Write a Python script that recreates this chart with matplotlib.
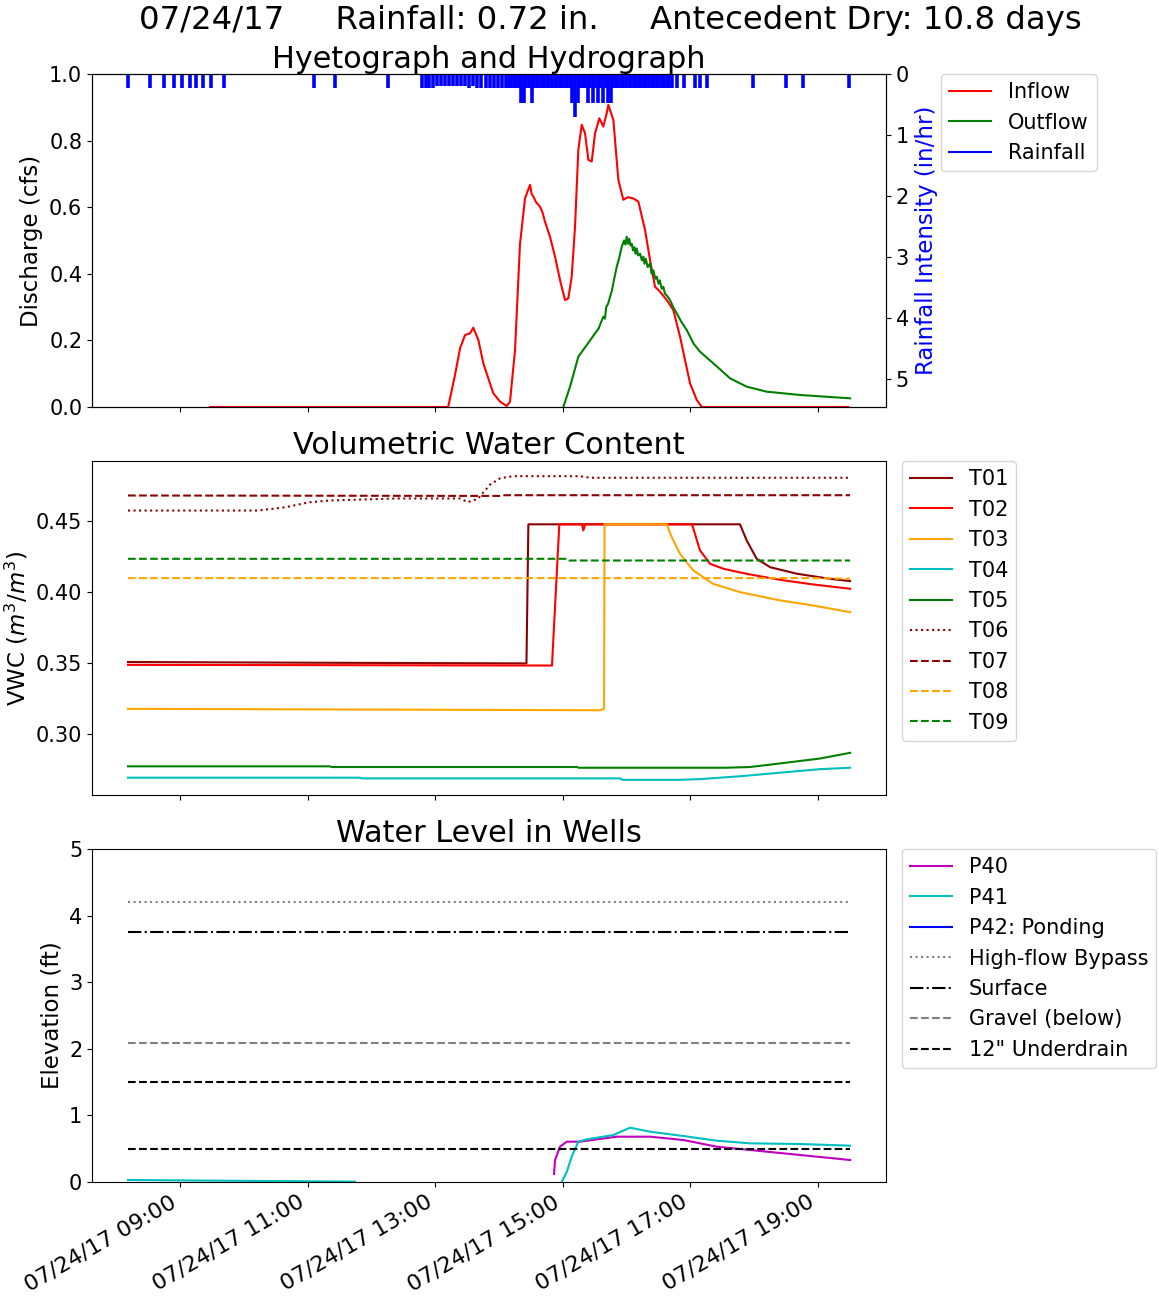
import numpy as np
import pandas as pd
import matplotlib
matplotlib.use("Agg")
import matplotlib.pyplot as plt
import matplotlib.dates as mdates

DAY = pd.Timestamp("2017-07-24")

# ---- hyetograph / hydrograph (times in decimal hours of the day) ----
inflow_t = [9.47, 13.18, 13.205, 13.31, 13.389, 13.467, 13.545, 13.597, 13.676,
            13.754, 13.832, 13.911, 14.016, 14.121, 14.172, 14.251, 14.329, 14.408,
            14.486, 14.51, 14.538, 14.58, 14.643, 14.68, 14.721, 14.799, 14.878,
            14.956, 15.034, 15.086, 15.139, 15.191, 15.243, 15.296, 15.348, 15.40,
            15.453, 15.505, 15.572, 15.635, 15.688, 15.713, 15.792, 15.87, 15.948,
            16.02, 16.105, 16.183, 16.288, 16.367, 16.445, 16.524, 16.629, 16.732,
            16.837, 16.915, 16.994, 17.099, 17.177, 19.475]
inflow_q = [0.0, 0.0, 0.002, 0.096, 0.176, 0.216, 0.221, 0.238, 0.201,
            0.131, 0.086, 0.041, 0.016, 0.003, 0.016, 0.171, 0.49, 0.627,
            0.667, 0.64, 0.632, 0.615, 0.601, 0.585, 0.556, 0.511, 0.451,
            0.381, 0.321, 0.326, 0.391, 0.541, 0.772, 0.847, 0.822, 0.742,
            0.737, 0.822, 0.867, 0.842, 0.882, 0.907, 0.862, 0.682, 0.622,
            0.63, 0.626, 0.617, 0.532, 0.441, 0.361, 0.346, 0.321, 0.291,
            0.211, 0.141, 0.071, 0.021, 0.0, 0.0]

outflow_t = [15.008, 15.113, 15.243, 15.375, 15.505, 15.56, 15.60, 15.635, 15.66,
             15.68, 15.71, 15.74, 15.77, 15.80, 15.845, 15.88, 15.923, 15.96, 15.98,
             16.002, 16.02, 16.04, 16.06, 16.08, 16.10, 16.12, 16.14, 16.158, 16.18,
             16.21, 16.24, 16.262, 16.28, 16.30, 16.33, 16.367, 16.39, 16.42, 16.45,
             16.472, 16.50, 16.52, 16.55, 16.575, 16.60, 16.63, 16.68, 16.73, 16.785,
             16.86, 16.942, 17.05, 17.15, 17.359, 17.621, 17.882, 18.194, 18.718,
             19.502]
outflow_q = [0.0, 0.061, 0.151, 0.186, 0.221, 0.235, 0.255, 0.271, 0.265,
             0.30, 0.31, 0.331, 0.35, 0.38, 0.421, 0.445, 0.481, 0.50, 0.488,
             0.511, 0.49, 0.505, 0.485, 0.49, 0.47, 0.48, 0.46, 0.476, 0.455,
             0.46, 0.44, 0.451, 0.43, 0.445, 0.42, 0.431, 0.40, 0.41, 0.385,
             0.391, 0.37, 0.38, 0.355, 0.361, 0.34, 0.335, 0.321, 0.30, 0.281,
             0.255, 0.231, 0.19, 0.166, 0.131, 0.086, 0.061, 0.046, 0.036,
             0.026]

rain_t = [8.19, 8.53, 8.749, 8.911, 9.027, 9.157, 9.251, 9.365, 9.481, 9.69,
          11.10, 11.429, 12.256,
          12.793, 12.856, 12.903, 12.966, 13.028, 13.091, 13.154, 13.216, 13.279,
          13.342, 13.404, 13.467, 13.53, 13.592, 13.655, 13.718, 13.796, 13.859,
          13.922, 13.984, 14.047,
          14.11, 14.15, 14.19, 14.23, 14.27, 14.31, 14.35, 14.39, 14.43, 14.47,
          14.51, 14.55, 14.59, 14.63, 14.67, 14.71, 14.75, 14.79, 14.83, 14.87,
          14.91, 14.95, 14.99, 15.03, 15.07, 15.11, 15.15, 15.19, 15.23, 15.27,
          15.31, 15.35, 15.39, 15.43, 15.47, 15.51, 15.55, 15.59, 15.63, 15.67,
          15.71, 15.75, 15.79, 15.83, 15.87, 15.91, 15.95, 15.99, 16.03, 16.07,
          16.11, 16.15, 16.19, 16.23, 16.27, 16.31, 16.35, 16.39, 16.43, 16.47,
          16.51, 16.55, 16.59, 16.63, 16.67, 16.71,
          16.79, 16.90, 17.072, 17.15, 17.26, 17.981, 18.498, 18.765, 19.486]
rain_i = [0.23, 0.23, 0.23, 0.23, 0.23, 0.23, 0.23, 0.23, 0.23, 0.23,
          0.23, 0.23, 0.23,
          0.23, 0.23, 0.23, 0.23, 0.20, 0.20, 0.20, 0.20, 0.20,
          0.20, 0.20, 0.20, 0.23, 0.20, 0.23, 0.23, 0.23, 0.23,
          0.23, 0.23, 0.23,
          0.23, 0.23, 0.23, 0.23, 0.23, 0.23, 0.48, 0.48, 0.23, 0.23,
          0.48, 0.23, 0.23, 0.23, 0.23, 0.23, 0.23, 0.23, 0.23, 0.23,
          0.23, 0.23, 0.23, 0.23, 0.23, 0.23, 0.48, 0.70, 0.48, 0.23,
          0.23, 0.23, 0.48, 0.23, 0.48, 0.23, 0.48, 0.23, 0.48, 0.23,
          0.48, 0.48, 0.23, 0.23, 0.23, 0.23, 0.23, 0.23, 0.23, 0.23,
          0.23, 0.23, 0.23, 0.23, 0.23, 0.23, 0.23, 0.23, 0.23, 0.23,
          0.23, 0.23, 0.23, 0.23, 0.23, 0.23,
          0.23, 0.23, 0.23, 0.23, 0.23, 0.23, 0.23, 0.23, 0.23]

# ---- volumetric water content ----
t01_t = [8.185, 11.0, 14.43, 14.46, 17.777, 17.882, 18.039, 18.248, 18.666, 19.188, 19.502]
t01_v = [0.351, 0.3505, 0.350, 0.448, 0.448, 0.4366, 0.4237, 0.4178, 0.4132, 0.4096, 0.408]
t02_t = [8.185, 14.83, 14.945, 15.30, 15.321, 15.35, 17.025, 17.15, 17.307, 17.516,
         17.882, 18.404, 18.926, 19.502]
t02_v = [0.349, 0.3485, 0.448, 0.448, 0.4437, 0.448, 0.448, 0.4296, 0.4202, 0.4167,
         0.4131, 0.4089, 0.4056, 0.4026]
t03_t = [8.185, 12.0, 15.58, 15.646, 15.654, 16.629, 16.707, 16.837, 17.045, 17.354,
         17.777, 18.404, 18.926, 19.502]
t03_v = [0.318, 0.3175, 0.317, 0.318, 0.448, 0.448, 0.4389, 0.4272, 0.4155, 0.4061,
         0.4002, 0.3944, 0.3908, 0.3861]
t04_t = [8.185, 11.82, 11.85, 15.90, 15.93, 16.84, 17.15, 17.78, 18.40, 19.03, 19.502]
t04_v = [0.2695, 0.2695, 0.269, 0.269, 0.268, 0.268, 0.2685, 0.2705, 0.273, 0.2755, 0.2765]
t05_t = [8.185, 11.35, 11.38, 15.22, 15.25, 17.54, 17.93, 18.40, 19.03, 19.502]
t05_v = [0.2775, 0.2775, 0.277, 0.277, 0.2765, 0.2765, 0.277, 0.2795, 0.283, 0.287]
t06_t = [8.185, 10.22, 10.65, 11.02, 11.35, 12.39, 13.39, 13.51, 13.67, 13.86, 14.02,
         14.22, 15.27, 15.43, 19.502]
t06_v = [0.4577, 0.4577, 0.460, 0.4635, 0.4648, 0.4662, 0.4662, 0.4636, 0.466, 0.476,
         0.4805, 0.4819, 0.4819, 0.4808, 0.4808]
t07_t = [8.185, 14.0, 14.05, 19.502]
t07_v = [0.4683, 0.468, 0.4685, 0.4685]
t08_t = [8.185, 18.9, 19.502]
t08_v = [0.4101, 0.4101, 0.4097]
t09_t = [8.185, 15.08, 15.10, 19.502]
t09_v = [0.4237, 0.4237, 0.4225, 0.4225]

# ---- wells ----
p40_t = [14.862, 14.878, 14.956, 15.061, 15.27, 15.845, 16.367, 16.889, 17.412,
         17.934, 18.718, 19.502]
p40_h = [0.12, 0.33, 0.53, 0.605, 0.605, 0.68, 0.68, 0.63, 0.53, 0.48, 0.405, 0.33]
p41_t = [8.185, 9.5, 11.0, 11.743, np.nan, 14.983, 15.061, 15.139, 15.243, 15.375,
         15.792, 16.053, 16.367, 16.889, 17.412, 17.934, 18.718, 19.502]
p41_h = [0.03, 0.02, 0.01, 0.005, np.nan, 0.0, 0.15, 0.38, 0.605, 0.64,
         0.705, 0.815, 0.755, 0.69, 0.62, 0.58, 0.57, 0.545]
span_t = [8.185, 19.502]
bypass_elev = 4.2
surface_elev = 3.75
gravel_elev = 2.08
underdrain_elev = [1.5, 0.5]


def to_time(hours):
    return DAY + pd.to_timedelta(np.asarray(hours, dtype=float), unit="h")


TICK = 15
XTICK = 16
LABEL = 16.5
LEG = 15
TITLE = 21.8

fig = plt.figure(figsize=(11.59, 12.99), dpi=100)
ax1 = fig.add_axes([0.0794, 0.6867, 0.6851, 0.2564])
ax2 = fig.add_axes([0.0794, 0.3880, 0.6851, 0.2571], sharex=ax1)
ax3 = fig.add_axes([0.0794, 0.0901, 0.6851, 0.2563], sharex=ax1)

fig.text(0.527, 0.9845, "07/24/17     Rainfall: 0.72 in.     Antecedent Dry: 10.8 days",
         ha="center", va="center", fontsize=23.3)

# Hyetograph and hydrograph
ax1.plot(to_time(inflow_t), inflow_q, color="red", lw=1.5, label="Inflow")
ax1.plot(to_time(outflow_t), outflow_q, color="green", lw=1.5, label="Outflow")
ax1.set_ylim(0, 1.0)
ax1.set_ylabel("Discharge (cfs)", fontsize=LABEL)
ax1.set_title("Hyetograph and Hydrograph", fontsize=TITLE, pad=3)
axr = ax1.twinx()
rain = axr.vlines(to_time(rain_t), 0, rain_i, color="blue", lw=2.6)
axr.set_ylim(5.46, 0)
axr.set_ylabel("Rainfall Intensity (in/hr)", color="blue", fontsize=LABEL)
axr.tick_params(labelsize=TICK)
rain_handle = plt.Line2D([], [], color="blue", lw=1.5)
h1, l1 = ax1.get_legend_handles_labels()
axr.legend(h1 + [rain_handle], l1 + ["Rainfall"], loc="upper left",
           bbox_to_anchor=(1.069, 1.0), borderaxespad=0, fontsize=LEG)

# Volumetric water content
vwc = [
    (t01_t, t01_v, "darkred", "-", "T01"),
    (t02_t, t02_v, "red", "-", "T02"),
    (t03_t, t03_v, "orange", "-", "T03"),
    (t04_t, t04_v, "c", "-", "T04"),
    (t05_t, t05_v, "green", "-", "T05"),
    (t06_t, t06_v, "darkred", ":", "T06"),
    (t07_t, t07_v, "darkred", "--", "T07"),
    (t08_t, t08_v, "orange", "--", "T08"),
    (t09_t, t09_v, "green", "--", "T09"),
]
for tt, vv, col, ls, name in vwc:
    ax2.plot(to_time(tt), vv, color=col, ls=ls, lw=1.5, label=name)
ax2.set_ylabel("VWC ($m^3/m^3$)", fontsize=LABEL)
ax2.set_title("Volumetric Water Content", fontsize=TITLE, pad=5)
ax2.legend(loc="upper left", bbox_to_anchor=(1.020, 1.0), borderaxespad=0, fontsize=LEG)

# Water level in wells
ax3.plot(to_time(p40_t), p40_h, color="m", lw=1.5, label="P40")
ax3.plot(to_time(p41_t), p41_h, color="c", lw=1.5, label="P41")
ax3.plot([], [], color="blue", lw=1.5, label="P42: Ponding")
ax3.plot(to_time(span_t), [bypass_elev] * 2, color="gray", ls=":", lw=1.5,
         label="High-flow Bypass")
ax3.plot(to_time(span_t), [surface_elev] * 2, color="black", ls="-.", lw=1.5,
         label="Surface")
ax3.plot(to_time(span_t), [gravel_elev] * 2, color="gray", ls="--", lw=1.5,
         label="Gravel (below)")
ax3.plot(to_time(span_t), [underdrain_elev[0]] * 2, color="black", ls="--", lw=1.5,
         label='12" Underdrain')
ax3.plot(to_time(span_t), [underdrain_elev[1]] * 2, color="black", ls="--", lw=1.5)
ax3.set_ylim(0, 5)
ax3.set_ylabel("Elevation (ft)", fontsize=LABEL)
ax3.set_title("Water Level in Wells", fontsize=TITLE, pad=5)
ax3.legend(loc="upper left", bbox_to_anchor=(1.020, 1.0), borderaxespad=0, fontsize=LEG)

ax1.set_xlim(to_time([7.621])[0], to_time([20.066])[0])
ax3.xaxis.set_major_locator(mdates.HourLocator(byhour=range(1, 24, 2)))
ax3.xaxis.set_major_formatter(mdates.DateFormatter("%m/%d/%y %H:%M"))
for ax in (ax1, ax2, ax3):
    ax.tick_params(axis="y", labelsize=TICK)
ax3.tick_params(axis="x", labelsize=XTICK)
for ax in (ax1, ax2):
    ax.tick_params(labelbottom=False)
for lab in ax3.get_xticklabels():
    lab.set_rotation(30)
    lab.set_ha("right")

fig.savefig("out.png", dpi=100)
